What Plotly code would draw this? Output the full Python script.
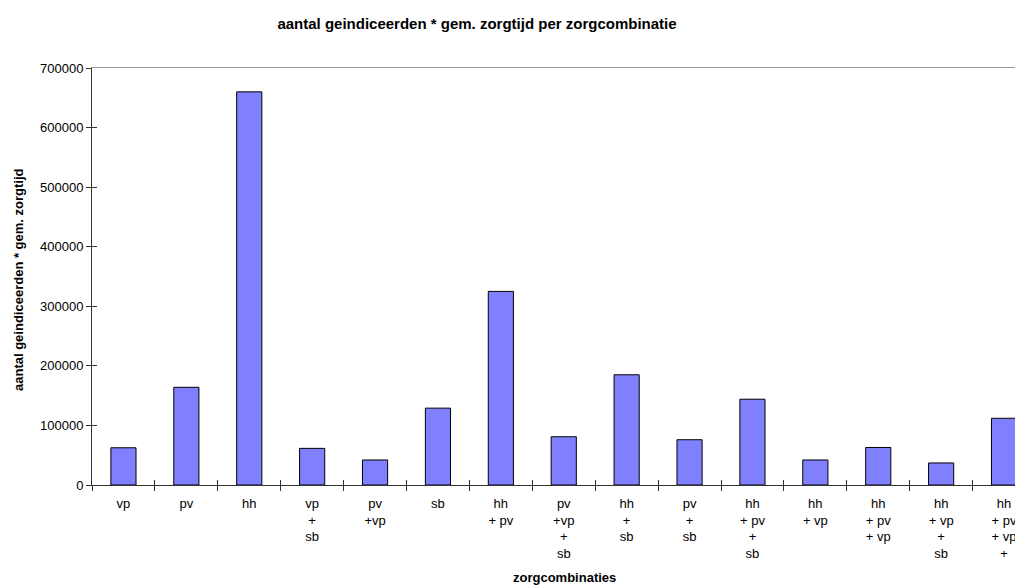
import plotly.graph_objects as go

categories = [
    "vp", "pv", "hh", "vp<br>+<br>sb", "pv<br>+vp", "sb", "hh<br>+ pv",
    "pv<br>+vp<br>+<br>sb", "hh<br>+<br>sb", "pv<br>+<br>sb",
    "hh<br>+ pv<br>+<br>sb", "hh<br>+ vp", "hh<br>+ pv<br>+ vp",
    "hh<br>+ vp<br>+<br>sb", "hh<br>+ pv<br>+ vp<br>+",
]
values = [62500, 164000, 660000, 61500, 42000, 129000, 325000,
          81000, 185000, 76000, 144000, 42000, 63000, 37000, 112000]
y_ticks = [0, 100000, 200000, 300000, 400000, 500000, 600000, 700000]

title_text = "aantal geindiceerden * gem. zorgtijd per zorgcombinatie"
y_title = "aantal geindiceerden * gem. zorgtijd"
x_title = "zorgcombinaties"

# page body adds an 8px offset; the figure is sized to the visible area
OFF = 8
W, H = 1023 - OFF, 588 - OFF
ML, MT, MB = 92 - OFF, 68 - OFF, 103
cat_px = 62.9
xs = list(range(len(categories)))
bounds = [i - 0.5 for i in range(len(categories) + 1)]
xmax = -0.5 + (W - ML) / cat_px
FONT = "Liberation Sans, Arial, sans-serif"

fig = go.Figure()
fig.add_trace(go.Bar(
    x=xs, y=values, width=0.4,
    marker=dict(color="#8080FF", line=dict(color="black", width=1)),
))

fig.update_layout(
    width=W, height=H,
    margin=dict(l=ML, r=0, t=MT, b=MB, pad=0, autoexpand=False),
    plot_bgcolor="white", paper_bgcolor="white",
    showlegend=False,
    font=dict(family=FONT, size=12, color="black"),
    title=dict(text="<b>" + title_text + "</b>", x=(477 - OFF) / W, xref="container",
               y=1 - (24 - OFF) / H, yref="container", xanchor="center", yanchor="middle",
               font=dict(family=FONT, size=15, color="black")),
    xaxis=dict(
        range=[-0.5, xmax], tickmode="array", tickvals=xs, ticktext=categories,
        ticks="", showgrid=False, zeroline=False, showline=True,
        linecolor="#333333", linewidth=1, tickangle=0, automargin=False,
        ticklabelstandoff=6,
        tickfont=dict(family=FONT, size=13, color="black"),
        minor=dict(tickmode="array", tickvals=bounds, ticks="outside",
                   ticklen=5, tickcolor="#333333", tickwidth=1, showgrid=False),
    ),
    xaxis2=dict(
        range=[-0.5, xmax], overlaying="x", anchor="y", side="bottom",
        tickmode="array", tickvals=bounds, ticks="inside", ticklen=5,
        tickcolor="#333333", showticklabels=False, showgrid=False,
        zeroline=False, showline=False, automargin=False,
    ),
    xaxis3=dict(
        range=[-0.5, xmax], overlaying="x", anchor="y", side="top",
        showticklabels=False, ticks="", showgrid=False, zeroline=False,
        showline=True, linecolor="#999999", linewidth=1, automargin=False,
    ),
    yaxis=dict(
        range=[0, 700000], tickmode="array", tickvals=y_ticks,
        ticktext=[str(v) for v in y_ticks],
        ticks="outside", ticklen=5, tickcolor="#333333",
        showgrid=False, zeroline=False, showline=True, automargin=False,
        linecolor="#333333", linewidth=1,
        tickfont=dict(family=FONT, size=13, color="black"),
    ),
    yaxis2=dict(
        range=[0, 700000], overlaying="y", anchor="x", side="left",
        tickmode="array", tickvals=y_ticks, ticks="inside", ticklen=5,
        tickcolor="#333333", showticklabels=False, showgrid=False,
        zeroline=False, showline=False, automargin=False,
    ),
)

# helper invisible traces so the overlay axes render
fig.add_trace(go.Scatter(x=[None], y=[None], xaxis="x2", yaxis="y", hoverinfo="skip"))
fig.add_trace(go.Scatter(x=[None], y=[None], xaxis="x3", yaxis="y", hoverinfo="skip"))
fig.add_trace(go.Scatter(x=[None], y=[None], xaxis="x", yaxis="y2", hoverinfo="skip"))

plot_w = W - ML
plot_h = H - MT - MB
fig.add_annotation(
    text="<b>" + y_title + "</b>", xref="paper", yref="paper",
    x=(18 - OFF - ML) / plot_w, y=(MT + plot_h - (280 - OFF)) / plot_h, textangle=-90,
    showarrow=False, xanchor="center", yanchor="middle",
    font=dict(family=FONT, size=13, color="black"),
)
fig.add_annotation(
    text="<b>" + x_title + "</b>", xref="paper", yref="paper",
    x=(564 - OFF - ML) / plot_w, y=(MT + plot_h - (577 - OFF)) / plot_h, showarrow=False,
    xanchor="center", yanchor="middle",
    font=dict(family=FONT, size=13, color="black"),
)

fig.write_html("out.html")
